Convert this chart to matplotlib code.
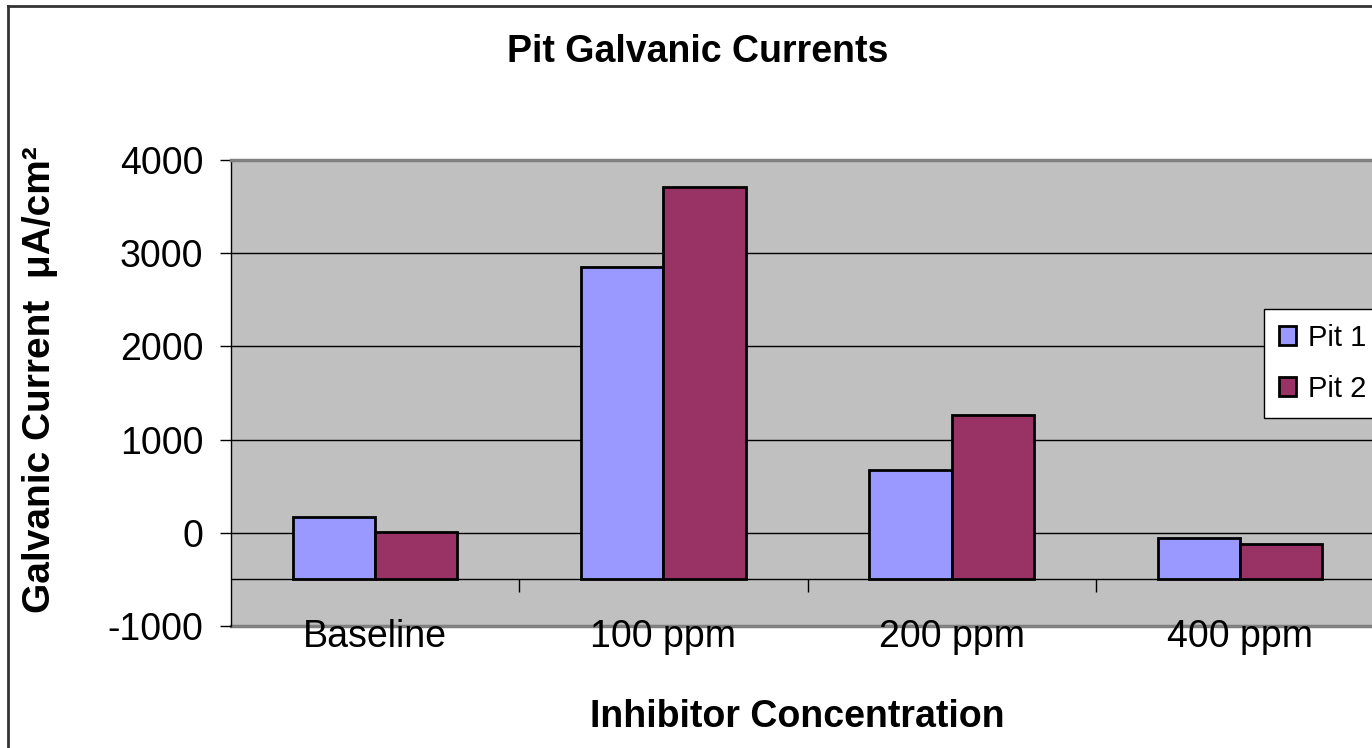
import matplotlib
matplotlib.use("Agg")
import matplotlib.pyplot as plt
from matplotlib.lines import Line2D
from matplotlib.patches import Patch
import numpy as np

categories = ["Baseline", "100 ppm", "200 ppm", "400 ppm"]
pit1 = [165, 2850, 675, -55]
pit2 = [5, 3710, 1260, -120]
series_names = ["Pit 1", "Pit 2"]
y_ticks = [-1000, 0, 1000, 2000, 3000, 4000]
axis_cross = -500

plt.rcParams['font.family'] = ['Liberation Sans', 'DejaVu Sans']

W, H = 1372, 748
fig = plt.figure(figsize=(W / 100, H / 100), dpi=100)
fig.patch.set_facecolor("white")

left, right, top, bottom = 231, 1384, 160, 626
ax = fig.add_axes([left / W, 1 - bottom / H, (right - left) / W, (bottom - top) / H])
ax.set_facecolor("#C0C0C0")

x = np.arange(len(categories))
w = 1 / 3.5
c1, c2 = "#9999FF", "#993366"
ax.bar(x - w / 2, np.array(pit1) - axis_cross, w, bottom=axis_cross, color=c1,
       edgecolor="black", linewidth=2, zorder=3)
ax.bar(x + w / 2, np.array(pit2) - axis_cross, w, bottom=axis_cross, color=c2,
       edgecolor="black", linewidth=2, zorder=3)

ax.set_xlim(-0.5, len(categories) - 0.5)
ax.set_ylim(-1000, 4000)
ax.set_yticks(y_ticks)
ax.set_yticklabels([str(v) for v in y_ticks], fontsize=27)
for v in y_ticks[1:]:
    ax.axhline(v, color="black", linewidth=1, zorder=1)
ax.axhline(axis_cross, color="black", linewidth=1, zorder=2)
ax.vlines(np.arange(len(categories) - 1) + 0.5, axis_cross - 130, axis_cross,
          color="black", linewidth=1, zorder=2)

ax.set_xticks(x)
ax.set_xticklabels(categories, fontsize=27)
ax.tick_params(axis="x", length=0, pad=-5)
ax.tick_params(axis="y", length=8, width=1, pad=12, direction="out")

ax.spines["left"].set_color("black")
ax.spines["left"].set_linewidth(1)
ax.spines["bottom"].set_color("#808080")
ax.spines["bottom"].set_linewidth(2.5)
ax.spines["bottom"].set_zorder(1.5)
ax.spines["top"].set_color("#808080")
ax.spines["top"].set_linewidth(2.5)
ax.spines["right"].set_visible(False)
ax.xaxis.set_zorder(4)

fig.text(698 / W, 1 - 52 / H, "Pit Galvanic Currents", fontsize=27, fontweight="bold",
         ha="center", va="center")
fig.text(797 / W, 1 - 717 / H, "Inhibitor Concentration", fontsize=27, fontweight="bold",
         ha="center", va="center")
fig.text(40 / W, 1 - 380 / H, "Galvanic Current  μA/cm²", fontsize=28, fontweight="bold",
         ha="center", va="center", rotation=90)

handles = [Patch(facecolor=c1, edgecolor="black", linewidth=2),
           Patch(facecolor=c2, edgecolor="black", linewidth=2)]
leg = fig.legend(handles, series_names, loc="upper left",
                 bbox_to_anchor=(1264 / W, 1 - 309 / H), fontsize=21,
                 frameon=True, fancybox=False, framealpha=1, edgecolor="black",
                 handlelength=0.6, handleheight=0.6, handletextpad=0.4,
                 borderpad=0.5, labelspacing=0.8, borderaxespad=0)
leg.get_frame().set_linewidth(1)

fig.add_artist(Line2D([8 / W, 8 / W], [0, 1 - 6 / H], transform=fig.transFigure,
                      color="#333333", linewidth=2))
fig.add_artist(Line2D([8 / W, 1], [1 - 6 / H, 1 - 6 / H], transform=fig.transFigure,
                      color="#333333", linewidth=2))

fig.savefig("out.png", dpi=100)
